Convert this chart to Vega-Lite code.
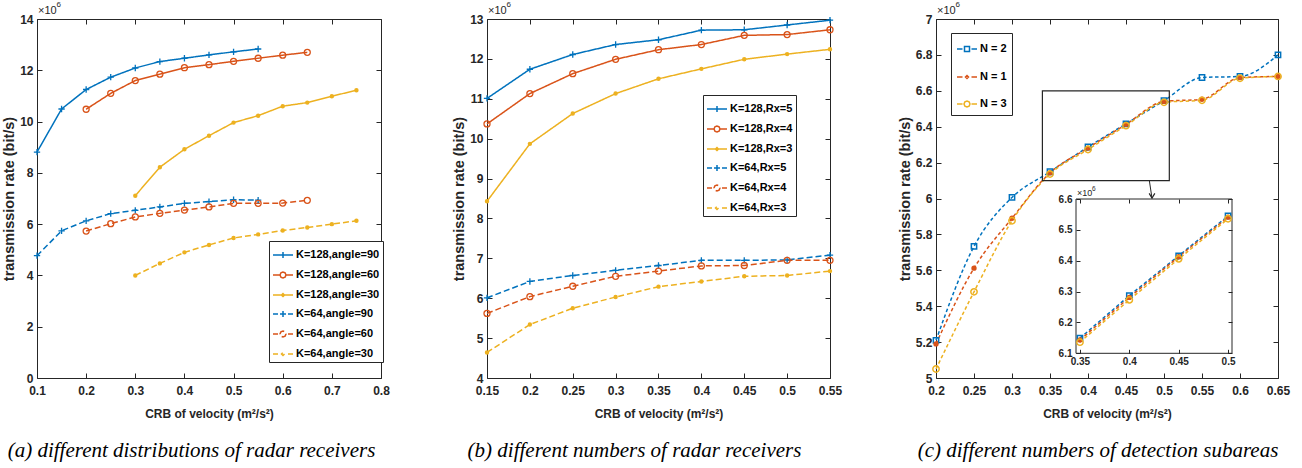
{
"$schema":"https://vega.github.io/schema/vega-lite/v6.json",
"background":"white",
"padding":{"left":1,"top":0,"right":0,"bottom":0},
"spacing":106,
"bounds":"flush",
"resolve":{"scale":{"color":"independent","shape":"independent","strokeDash":"independent"}},
"datasets":{
"a":[
{"s":"K=128,angle=90","x":0.1,"y":8.81},{"s":"K=128,angle=90","x":0.15,"y":10.49},{"s":"K=128,angle=90","x":0.2,"y":11.25},{"s":"K=128,angle=90","x":0.25,"y":11.73},{"s":"K=128,angle=90","x":0.3,"y":12.09},{"s":"K=128,angle=90","x":0.35,"y":12.34},{"s":"K=128,angle=90","x":0.4,"y":12.47},{"s":"K=128,angle=90","x":0.45,"y":12.6},{"s":"K=128,angle=90","x":0.5,"y":12.72},{"s":"K=128,angle=90","x":0.55,"y":12.83},
{"s":"K=128,angle=60","x":0.2,"y":10.48},{"s":"K=128,angle=60","x":0.25,"y":11.1},{"s":"K=128,angle=60","x":0.3,"y":11.6},{"s":"K=128,angle=60","x":0.35,"y":11.85},{"s":"K=128,angle=60","x":0.4,"y":12.1},{"s":"K=128,angle=60","x":0.45,"y":12.22},{"s":"K=128,angle=60","x":0.5,"y":12.35},{"s":"K=128,angle=60","x":0.55,"y":12.47},{"s":"K=128,angle=60","x":0.6,"y":12.59},{"s":"K=128,angle=60","x":0.65,"y":12.7},
{"s":"K=128,angle=30","x":0.3,"y":7.11},{"s":"K=128,angle=30","x":0.35,"y":8.22},{"s":"K=128,angle=30","x":0.4,"y":8.92},{"s":"K=128,angle=30","x":0.45,"y":9.45},{"s":"K=128,angle=30","x":0.5,"y":9.96},{"s":"K=128,angle=30","x":0.55,"y":10.23},{"s":"K=128,angle=30","x":0.6,"y":10.6},{"s":"K=128,angle=30","x":0.65,"y":10.74},{"s":"K=128,angle=30","x":0.7,"y":10.99},{"s":"K=128,angle=30","x":0.75,"y":11.22},
{"s":"K=64,angle=90","x":0.1,"y":4.77},{"s":"K=64,angle=90","x":0.15,"y":5.74},{"s":"K=64,angle=90","x":0.2,"y":6.13},{"s":"K=64,angle=90","x":0.25,"y":6.41},{"s":"K=64,angle=90","x":0.3,"y":6.54},{"s":"K=64,angle=90","x":0.35,"y":6.67},{"s":"K=64,angle=90","x":0.4,"y":6.81},{"s":"K=64,angle=90","x":0.45,"y":6.88},{"s":"K=64,angle=90","x":0.5,"y":6.95},{"s":"K=64,angle=90","x":0.55,"y":6.94},
{"s":"K=64,angle=60","x":0.2,"y":5.73},{"s":"K=64,angle=60","x":0.25,"y":6.02},{"s":"K=64,angle=60","x":0.3,"y":6.28},{"s":"K=64,angle=60","x":0.35,"y":6.42},{"s":"K=64,angle=60","x":0.4,"y":6.55},{"s":"K=64,angle=60","x":0.45,"y":6.67},{"s":"K=64,angle=60","x":0.5,"y":6.81},{"s":"K=64,angle=60","x":0.55,"y":6.81},{"s":"K=64,angle=60","x":0.6,"y":6.82},{"s":"K=64,angle=60","x":0.65,"y":6.93},
{"s":"K=64,angle=30","x":0.3,"y":4.0},{"s":"K=64,angle=30","x":0.35,"y":4.47},{"s":"K=64,angle=30","x":0.4,"y":4.9},{"s":"K=64,angle=30","x":0.45,"y":5.19},{"s":"K=64,angle=30","x":0.5,"y":5.46},{"s":"K=64,angle=30","x":0.55,"y":5.6},{"s":"K=64,angle=30","x":0.6,"y":5.75},{"s":"K=64,angle=30","x":0.65,"y":5.87},{"s":"K=64,angle=30","x":0.7,"y":6.0},{"s":"K=64,angle=30","x":0.75,"y":6.13}
],
"b":[
{"s":"K=128,Rx=5","x":0.15,"y":11.01},{"s":"K=128,Rx=5","x":0.2,"y":11.74},{"s":"K=128,Rx=5","x":0.25,"y":12.11},{"s":"K=128,Rx=5","x":0.3,"y":12.36},{"s":"K=128,Rx=5","x":0.35,"y":12.48},{"s":"K=128,Rx=5","x":0.4,"y":12.72},{"s":"K=128,Rx=5","x":0.45,"y":12.73},{"s":"K=128,Rx=5","x":0.5,"y":12.85},{"s":"K=128,Rx=5","x":0.55,"y":12.97},
{"s":"K=128,Rx=4","x":0.15,"y":10.37},{"s":"K=128,Rx=4","x":0.2,"y":11.13},{"s":"K=128,Rx=4","x":0.25,"y":11.63},{"s":"K=128,Rx=4","x":0.3,"y":11.99},{"s":"K=128,Rx=4","x":0.35,"y":12.23},{"s":"K=128,Rx=4","x":0.4,"y":12.36},{"s":"K=128,Rx=4","x":0.45,"y":12.59},{"s":"K=128,Rx=4","x":0.5,"y":12.61},{"s":"K=128,Rx=4","x":0.55,"y":12.73},
{"s":"K=128,Rx=3","x":0.15,"y":8.43},{"s":"K=128,Rx=3","x":0.2,"y":9.87},{"s":"K=128,Rx=3","x":0.25,"y":10.63},{"s":"K=128,Rx=3","x":0.3,"y":11.13},{"s":"K=128,Rx=3","x":0.35,"y":11.5},{"s":"K=128,Rx=3","x":0.4,"y":11.75},{"s":"K=128,Rx=3","x":0.45,"y":11.99},{"s":"K=128,Rx=3","x":0.5,"y":12.12},{"s":"K=128,Rx=3","x":0.55,"y":12.24},
{"s":"K=64,Rx=5","x":0.15,"y":6.01},{"s":"K=64,Rx=5","x":0.2,"y":6.42},{"s":"K=64,Rx=5","x":0.25,"y":6.57},{"s":"K=64,Rx=5","x":0.3,"y":6.7},{"s":"K=64,Rx=5","x":0.35,"y":6.82},{"s":"K=64,Rx=5","x":0.4,"y":6.95},{"s":"K=64,Rx=5","x":0.45,"y":6.95},{"s":"K=64,Rx=5","x":0.5,"y":6.96},{"s":"K=64,Rx=5","x":0.55,"y":7.08},
{"s":"K=64,Rx=4","x":0.15,"y":5.62},{"s":"K=64,Rx=4","x":0.2,"y":6.04},{"s":"K=64,Rx=4","x":0.25,"y":6.3},{"s":"K=64,Rx=4","x":0.3,"y":6.55},{"s":"K=64,Rx=4","x":0.35,"y":6.68},{"s":"K=64,Rx=4","x":0.4,"y":6.81},{"s":"K=64,Rx=4","x":0.45,"y":6.82},{"s":"K=64,Rx=4","x":0.5,"y":6.95},{"s":"K=64,Rx=4","x":0.55,"y":6.95},
{"s":"K=64,Rx=3","x":0.15,"y":4.64},{"s":"K=64,Rx=3","x":0.2,"y":5.34},{"s":"K=64,Rx=3","x":0.25,"y":5.75},{"s":"K=64,Rx=3","x":0.3,"y":6.03},{"s":"K=64,Rx=3","x":0.35,"y":6.29},{"s":"K=64,Rx=3","x":0.4,"y":6.42},{"s":"K=64,Rx=3","x":0.45,"y":6.55},{"s":"K=64,Rx=3","x":0.5,"y":6.57},{"s":"K=64,Rx=3","x":0.55,"y":6.68}
],
"c":[
{"s":"N = 2","x":0.2,"y":5.21},{"s":"N = 2","x":0.25,"y":5.733},{"s":"N = 2","x":0.3,"y":6.006},{"s":"N = 2","x":0.35,"y":6.149},{"s":"N = 2","x":0.4,"y":6.287},{"s":"N = 2","x":0.45,"y":6.416},{"s":"N = 2","x":0.5,"y":6.545},{"s":"N = 2","x":0.55,"y":6.674},{"s":"N = 2","x":0.6,"y":6.68},{"s":"N = 2","x":0.65,"y":6.8},
{"s":"N = 1","x":0.2,"y":5.19},{"s":"N = 1","x":0.25,"y":5.612},{"s":"N = 1","x":0.3,"y":5.89},{"s":"N = 1","x":0.35,"y":6.143},{"s":"N = 1","x":0.4,"y":6.281},{"s":"N = 1","x":0.45,"y":6.413},{"s":"N = 1","x":0.5,"y":6.541},{"s":"N = 1","x":0.55,"y":6.553},{"s":"N = 1","x":0.6,"y":6.674},{"s":"N = 1","x":0.65,"y":6.68},
{"s":"N = 3","x":0.2,"y":5.05},{"s":"N = 3","x":0.25,"y":5.48},{"s":"N = 3","x":0.3,"y":5.876},{"s":"N = 3","x":0.35,"y":6.136},{"s":"N = 3","x":0.4,"y":6.273},{"s":"N = 3","x":0.45,"y":6.406},{"s":"N = 3","x":0.5,"y":6.536},{"s":"N = 3","x":0.55,"y":6.547},{"s":"N = 3","x":0.6,"y":6.67},{"s":"N = 3","x":0.65,"y":6.68}
]
},
"hconcat":[
{
"width":344,"height":359,
"title":{"text":"(a) different distributions of radar receivers","dx":-17.5},
"data":{"name":"a"},
"resolve":{"axis":{"x":"independent","y":"independent"}},
"layer":[
{"mark":{"type":"point","opacity":0,"filled":false,"strokeWidth":1.5},
"encoding":{
"x":{"field":"x","type":"quantitative","scale":{"domain":[0.1,0.8],"nice":false,"zero":false},"axis":{"orient":"top","values":[0.1,0.2,0.3,0.4,0.5,0.6,0.7,0.8],"labels":false,"grid":false,"title":null}},
"y":{"field":"y","type":"quantitative","scale":{"domain":[0,14],"nice":false,"zero":false},"axis":{"orient":"right","values":[0,2,4,6,8,10,12,14],"labels":false,"grid":false,"title":null}},
"color":{"field":"s","type":"nominal","scale":{"domain":["K=128,angle=90","K=128,angle=60","K=128,angle=30","K=64,angle=90","K=64,angle=60","K=64,angle=30"],"range":["#0072BD","#D95319","#EDB120","#0072BD","#D95319","#EDB120"]},
"legend":{"title":null,"orient":"none","legendX":232,"legendY":222,"direction":"vertical","rowPadding":3,"padding":3}},
"shape":{"field":"s","type":"nominal","scale":{"domain":["K=128,angle=90","K=128,angle=60","K=128,angle=30","K=64,angle=90","K=64,angle=60","K=64,angle=30"],"range":["M-1,0H1M0,-0.3V0.3","M-1,0H-0.3M0.3,0H1M0.3,0L0.21,0.21L0,0.3L-0.21,0.21L-0.3,0L-0.21,-0.21L0,-0.3L0.21,-0.21Z","M-1,0H1M0.15,0L0,0.15L-0.15,0L0,-0.15Z","M-1,0H-0.5M0.5,0H1M-0.3,0H0.3M0,-0.3V0.3","M-1,0H-0.5M0.5,0H1M0.3,0L0.21,0.21L0,0.3L-0.21,0.21L-0.3,0L-0.21,-0.21L0,-0.3L0.21,-0.21Z","M-1,0H-0.5M0.5,0H1M0.15,0L0,0.15L-0.15,0L0,-0.15Z"]},
"legend":{"title":null,"orient":"none","legendX":232,"legendY":222,"direction":"vertical","rowPadding":3,"padding":3}}}},
{"mark":{"type":"line","strokeWidth":1.5},
"encoding":{
"x":{"field":"x","type":"quantitative","scale":{"domain":[0.1,0.8],"nice":false,"zero":false},"axis":{"orient":"bottom","values":[0.1,0.2,0.3,0.4,0.5,0.6,0.7,0.8],"format":"~g","title":"CRB of velocity (m²/s²)"}},
"y":{"field":"y","type":"quantitative","scale":{"domain":[0,14],"nice":false,"zero":false},"axis":{"orient":"left","values":[0,2,4,6,8,10,12,14],"format":"~g","title":"transmission rate (bit/s)"}},
"color":{"field":"s","type":"nominal","scale":{"domain":["K=128,angle=90","K=128,angle=60","K=128,angle=30","K=64,angle=90","K=64,angle=60","K=64,angle=30"],"range":["#0072BD","#D95319","#EDB120","#0072BD","#D95319","#EDB120"]}},
"strokeDash":{"field":"s","type":"nominal","scale":{"domain":["K=128,angle=90","K=128,angle=60","K=128,angle=30","K=64,angle=90","K=64,angle=60","K=64,angle=30"],"range":[[1,0],[1,0],[1,0],[6,3],[6,3],[6,3]]},"legend":null}}},
{"transform":[{"filter":{"field":"s","oneOf":["K=128,angle=90","K=64,angle=90"]}}],
"mark":{"type":"point","shape":"M-1,0H1M0,-1V1","size":40,"filled":false,"strokeWidth":1.3,"opacity":1},
"encoding":{"x":{"field":"x","type":"quantitative","axis":null},"y":{"field":"y","type":"quantitative","axis":null},
"color":{"field":"s","type":"nominal","scale":{"domain":["K=128,angle=90","K=128,angle=60","K=128,angle=30","K=64,angle=90","K=64,angle=60","K=64,angle=30"],"range":["#0072BD","#D95319","#EDB120","#0072BD","#D95319","#EDB120"]}}}},
{"transform":[{"filter":{"field":"s","oneOf":["K=128,angle=60","K=64,angle=60"]}}],
"mark":{"type":"point","shape":"circle","size":36,"filled":false,"strokeWidth":1.3,"opacity":1},
"encoding":{"x":{"field":"x","type":"quantitative","axis":null},"y":{"field":"y","type":"quantitative","axis":null},
"color":{"field":"s","type":"nominal","scale":{"domain":["K=128,angle=90","K=128,angle=60","K=128,angle=30","K=64,angle=90","K=64,angle=60","K=64,angle=30"],"range":["#0072BD","#D95319","#EDB120","#0072BD","#D95319","#EDB120"]}}}},
{"transform":[{"filter":{"field":"s","oneOf":["K=128,angle=30","K=64,angle=30"]}}],
"mark":{"type":"point","shape":"circle","size":5,"filled":false,"strokeWidth":2.2,"opacity":1},
"encoding":{"x":{"field":"x","type":"quantitative","axis":null},"y":{"field":"y","type":"quantitative","axis":null},
"color":{"field":"s","type":"nominal","scale":{"domain":["K=128,angle=90","K=128,angle=60","K=128,angle=30","K=64,angle=90","K=64,angle=60","K=64,angle=30"],"range":["#0072BD","#D95319","#EDB120","#0072BD","#D95319","#EDB120"]}}}},
{"data":{"values":[{}]},"mark":{"type":"text","text":"×10","align":"left","baseline":"alphabetic","dx":1,"dy":-4.7,"font":"Liberation Sans","fontSize":11,"color":"#262626"},
"encoding":{"x":{"datum":0.1,"type":"quantitative","axis":null},"y":{"datum":14,"type":"quantitative","axis":null}}},
{"data":{"values":[{}]},"mark":{"type":"text","text":"6","align":"left","baseline":"alphabetic","dx":19.5,"dy":-12.4,"font":"Liberation Sans","fontSize":8,"color":"#262626"},
"encoding":{"x":{"datum":0.1,"type":"quantitative","axis":null},"y":{"datum":14,"type":"quantitative","axis":null}}}
]
},
{
"width":343,"height":359,
"title":{"text":"(b) different numbers of radar receivers","dx":-24},
"data":{"name":"b"},
"resolve":{"axis":{"x":"independent","y":"independent"}},
"layer":[
{"mark":{"type":"point","opacity":0,"filled":false,"strokeWidth":1.5},
"encoding":{
"x":{"field":"x","type":"quantitative","scale":{"domain":[0.15,0.55],"nice":false,"zero":false},"axis":{"orient":"top","values":[0.15,0.2,0.25,0.3,0.35,0.4,0.45,0.5,0.55],"labels":false,"grid":false,"title":null}},
"y":{"field":"y","type":"quantitative","scale":{"domain":[4,13],"nice":false,"zero":false},"axis":{"orient":"right","values":[4,5,6,7,8,9,10,11,12,13],"labels":false,"grid":false,"title":null}},
"color":{"field":"s","type":"nominal","scale":{"domain":["K=128,Rx=5","K=128,Rx=4","K=128,Rx=3","K=64,Rx=5","K=64,Rx=4","K=64,Rx=3"],"range":["#0072BD","#D95319","#EDB120","#0072BD","#D95319","#EDB120"]},
"legend":{"title":null,"orient":"none","legendX":216,"legendY":76,"direction":"vertical","rowPadding":3,"padding":3}},
"shape":{"field":"s","type":"nominal","scale":{"domain":["K=128,Rx=5","K=128,Rx=4","K=128,Rx=3","K=64,Rx=5","K=64,Rx=4","K=64,Rx=3"],"range":["M-1,0H1M0,-0.3V0.3","M-1,0H-0.3M0.3,0H1M0.3,0L0.21,0.21L0,0.3L-0.21,0.21L-0.3,0L-0.21,-0.21L0,-0.3L0.21,-0.21Z","M-1,0H1M0.15,0L0,0.15L-0.15,0L0,-0.15Z","M-1,0H-0.5M0.5,0H1M-0.3,0H0.3M0,-0.3V0.3","M-1,0H-0.5M0.5,0H1M0.3,0L0.21,0.21L0,0.3L-0.21,0.21L-0.3,0L-0.21,-0.21L0,-0.3L0.21,-0.21Z","M-1,0H-0.5M0.5,0H1M0.15,0L0,0.15L-0.15,0L0,-0.15Z"]},
"legend":{"title":null,"orient":"none","legendX":216,"legendY":76,"direction":"vertical","rowPadding":3,"padding":3}}}},
{"mark":{"type":"line","strokeWidth":1.5},
"encoding":{
"x":{"field":"x","type":"quantitative","scale":{"domain":[0.15,0.55],"nice":false,"zero":false},"axis":{"orient":"bottom","values":[0.15,0.2,0.25,0.3,0.35,0.4,0.45,0.5,0.55],"format":"~g","title":"CRB of velocity  (m²/s²)"}},
"y":{"field":"y","type":"quantitative","scale":{"domain":[4,13],"nice":false,"zero":false},"axis":{"orient":"left","values":[4,5,6,7,8,9,10,11,12,13],"format":"~g","title":"transmission rate (bit/s)"}},
"color":{"field":"s","type":"nominal","scale":{"domain":["K=128,Rx=5","K=128,Rx=4","K=128,Rx=3","K=64,Rx=5","K=64,Rx=4","K=64,Rx=3"],"range":["#0072BD","#D95319","#EDB120","#0072BD","#D95319","#EDB120"]}},
"strokeDash":{"field":"s","type":"nominal","scale":{"domain":["K=128,Rx=5","K=128,Rx=4","K=128,Rx=3","K=64,Rx=5","K=64,Rx=4","K=64,Rx=3"],"range":[[1,0],[1,0],[1,0],[6,3],[6,3],[6,3]]},"legend":null}}},
{"transform":[{"filter":{"field":"s","oneOf":["K=128,Rx=5","K=64,Rx=5"]}}],
"mark":{"type":"point","shape":"M-1,0H1M0,-1V1","size":40,"filled":false,"strokeWidth":1.3,"opacity":1},
"encoding":{"x":{"field":"x","type":"quantitative","axis":null},"y":{"field":"y","type":"quantitative","axis":null},
"color":{"field":"s","type":"nominal","scale":{"domain":["K=128,Rx=5","K=128,Rx=4","K=128,Rx=3","K=64,Rx=5","K=64,Rx=4","K=64,Rx=3"],"range":["#0072BD","#D95319","#EDB120","#0072BD","#D95319","#EDB120"]}}}},
{"transform":[{"filter":{"field":"s","oneOf":["K=128,Rx=4","K=64,Rx=4"]}}],
"mark":{"type":"point","shape":"circle","size":36,"filled":false,"strokeWidth":1.3,"opacity":1},
"encoding":{"x":{"field":"x","type":"quantitative","axis":null},"y":{"field":"y","type":"quantitative","axis":null},
"color":{"field":"s","type":"nominal","scale":{"domain":["K=128,Rx=5","K=128,Rx=4","K=128,Rx=3","K=64,Rx=5","K=64,Rx=4","K=64,Rx=3"],"range":["#0072BD","#D95319","#EDB120","#0072BD","#D95319","#EDB120"]}}}},
{"transform":[{"filter":{"field":"s","oneOf":["K=128,Rx=3","K=64,Rx=3"]}}],
"mark":{"type":"point","shape":"circle","size":5,"filled":false,"strokeWidth":2.2,"opacity":1},
"encoding":{"x":{"field":"x","type":"quantitative","axis":null},"y":{"field":"y","type":"quantitative","axis":null},
"color":{"field":"s","type":"nominal","scale":{"domain":["K=128,Rx=5","K=128,Rx=4","K=128,Rx=3","K=64,Rx=5","K=64,Rx=4","K=64,Rx=3"],"range":["#0072BD","#D95319","#EDB120","#0072BD","#D95319","#EDB120"]}}}},
{"data":{"values":[{}]},"mark":{"type":"text","text":"×10","align":"left","baseline":"alphabetic","dx":1,"dy":-4.7,"font":"Liberation Sans","fontSize":11,"color":"#262626"},
"encoding":{"x":{"datum":0.15,"type":"quantitative","axis":null},"y":{"datum":13,"type":"quantitative","axis":null}}},
{"data":{"values":[{}]},"mark":{"type":"text","text":"6","align":"left","baseline":"alphabetic","dx":19.5,"dy":-12.4,"font":"Liberation Sans","fontSize":8,"color":"#262626"},
"encoding":{"x":{"datum":0.15,"type":"quantitative","axis":null},"y":{"datum":13,"type":"quantitative","axis":null}}}
]
},
{
"width":342,"height":359,
"title":{"text":"(c) different numbers of detection subareas","dx":-9},
"data":{"name":"c"},
"resolve":{"scale":{"x":"independent","y":"independent"}},
"layer":[
{
"resolve":{"axis":{"x":"independent","y":"independent"}},
"layer":[
{"mark":{"type":"point","opacity":0,"filled":false,"strokeWidth":1.5},
"encoding":{
"x":{"field":"x","type":"quantitative","scale":{"domain":[0.2,0.65],"nice":false,"zero":false},"axis":{"orient":"top","values":[0.2,0.25,0.3,0.35,0.4,0.45,0.5,0.55,0.6,0.65],"labels":false,"grid":false,"title":null}},
"y":{"field":"y","type":"quantitative","scale":{"domain":[5,7],"nice":false,"zero":false},"axis":{"orient":"right","values":[5,5.2,5.4,5.6,5.8,6,6.2,6.4,6.6,6.8,7],"labels":false,"grid":false,"title":null}},
"color":{"field":"s","type":"nominal","scale":{"domain":["N = 2","N = 1","N = 3"],"range":["#0072BD","#D95319","#EDB120"]},
"legend":{"title":null,"orient":"none","legendX":15,"legendY":14,"direction":"vertical","rowPadding":11,"padding":5}},
"shape":{"field":"s","type":"nominal","scale":{"domain":["N = 2","N = 1","N = 3"],"range":["M-1,0H-0.45M0.45,0H1M-0.25,-0.25H0.25V0.25H-0.25Z","M-1,0H-0.45M0.45,0H1M0.15,0L0,0.15L-0.15,0L0,-0.15Z","M-1,0H-0.45M0.45,0H1M0.3,0L0.21,0.21L0,0.3L-0.21,0.21L-0.3,0L-0.21,-0.21L0,-0.3L0.21,-0.21Z"]},
"legend":{"title":null,"orient":"none","legendX":15,"legendY":14,"direction":"vertical","rowPadding":11,"padding":5}}}},
{"mark":{"type":"line","strokeWidth":1.5,"strokeDash":[3.5,2.5],"interpolate":"monotone"},
"encoding":{
"x":{"field":"x","type":"quantitative","scale":{"domain":[0.2,0.65],"nice":false,"zero":false},"axis":{"orient":"bottom","values":[0.2,0.25,0.3,0.35,0.4,0.45,0.5,0.55,0.6,0.65],"format":"~g","title":"CRB of velocity  (m²/s²)"}},
"y":{"field":"y","type":"quantitative","scale":{"domain":[5,7],"nice":false,"zero":false},"axis":{"orient":"left","values":[5,5.2,5.4,5.6,5.8,6,6.2,6.4,6.6,6.8,7],"format":"~g","title":"transmission rate (bit/s)"}},
"color":{"field":"s","type":"nominal","scale":{"domain":["N = 2","N = 1","N = 3"],"range":["#0072BD","#D95319","#EDB120"]}}}},
{"transform":[{"filter":{"field":"s","equal":"N = 2"}}],
"mark":{"type":"point","shape":"square","size":28,"filled":false,"strokeWidth":1.5,"opacity":1},
"encoding":{"x":{"field":"x","type":"quantitative","axis":null},"y":{"field":"y","type":"quantitative","axis":null},
"color":{"field":"s","type":"nominal","scale":{"domain":["N = 2","N = 1","N = 3"],"range":["#0072BD","#D95319","#EDB120"]}}}},
{"transform":[{"filter":{"field":"s","equal":"N = 1"}}],
"mark":{"type":"point","shape":"circle","size":8,"filled":false,"strokeWidth":2.5,"opacity":1},
"encoding":{"x":{"field":"x","type":"quantitative","axis":null},"y":{"field":"y","type":"quantitative","axis":null},
"color":{"field":"s","type":"nominal","scale":{"domain":["N = 2","N = 1","N = 3"],"range":["#0072BD","#D95319","#EDB120"]}}}},
{"transform":[{"filter":{"field":"s","equal":"N = 3"}}],
"mark":{"type":"point","shape":"circle","size":40,"filled":false,"strokeWidth":1.5,"opacity":1},
"encoding":{"x":{"field":"x","type":"quantitative","axis":null},"y":{"field":"y","type":"quantitative","axis":null},
"color":{"field":"s","type":"nominal","scale":{"domain":["N = 2","N = 1","N = 3"],"range":["#0072BD","#D95319","#EDB120"]}}}},
{"data":{"values":[{}]},"mark":{"type":"rect","fill":"white","fillOpacity":0,"stroke":"#262626","strokeWidth":1.2},
"encoding":{"x":{"datum":0.34,"type":"quantitative","axis":null},"x2":{"datum":0.507},"y":{"datum":6.1,"type":"quantitative","axis":null},"y2":{"datum":6.6}}},
{"data":{"values":[{}]},"mark":{"type":"rule","color":"#262626","strokeWidth":1},
"encoding":{"x":{"datum":0.4807,"type":"quantitative","axis":null},"x2":{"datum":0.4842},"y":{"datum":6.1,"type":"quantitative","axis":null},"y2":{"datum":6.002}}},
{"data":{"values":[{}]},"mark":{"type":"point","shape":"M-0.6,-1L0,0L0.6,-1","size":90,"filled":false,"strokeWidth":1.2,"color":"#262626","opacity":1},
"encoding":{"x":{"datum":0.4842,"type":"quantitative","axis":null},"y":{"datum":6.002,"type":"quantitative","axis":null}}},
{"data":{"values":[{}]},"mark":{"type":"text","text":"×10","align":"left","baseline":"alphabetic","dx":1,"dy":-4.7,"font":"Liberation Sans","fontSize":11,"color":"#262626"},
"encoding":{"x":{"datum":0.2,"type":"quantitative","axis":null},"y":{"datum":7,"type":"quantitative","axis":null}}},
{"data":{"values":[{}]},"mark":{"type":"text","text":"6","align":"left","baseline":"alphabetic","dx":19.5,"dy":-12.4,"font":"Liberation Sans","fontSize":8,"color":"#262626"},
"encoding":{"x":{"datum":0.2,"type":"quantitative","axis":null},"y":{"datum":7,"type":"quantitative","axis":null}}}
]
},
{
"resolve":{"axis":{"x":"independent","y":"independent"}},
"layer":[
{"data":{"values":[{}]},"mark":{"type":"rect","fill":"white","stroke":"#262626","strokeWidth":1},
"encoding":{"x":{"datum":0.346,"type":"quantitative","scale":{"domain":[0.346,0.504],"range":[140,296],"nice":false,"zero":false},"axis":{"orient":"bottom","offset":-24.7,"values":[0.35,0.4,0.45,0.5],"format":"~g","title":null,"labelFontSize":10,"tickSize":-4,"labelPadding":7,"zindex":1}},"x2":{"datum":0.504},
"y":{"datum":6.1,"type":"quantitative","scale":{"domain":[6.1,6.6],"range":[334.3,180],"nice":false,"zero":false},"axis":{"orient":"left","offset":-140,"values":[6.1,6.2,6.3,6.4,6.5,6.6],"format":".1f","title":null,"labelFontSize":10,"tickSize":-4,"labelPadding":8,"zindex":1}},"y2":{"datum":6.6}}},
{"transform":[{"filter":{"field":"x","range":[0.34,0.51]}}],
"mark":{"type":"line","strokeWidth":1.5,"strokeDash":[3.5,2.5]},
"encoding":{"x":{"field":"x","type":"quantitative","scale":{"domain":[0.346,0.504],"range":[140,296],"nice":false,"zero":false},"axis":null},
"y":{"field":"y","type":"quantitative","scale":{"domain":[6.1,6.6],"range":[334.3,180],"nice":false,"zero":false},"axis":null},
"color":{"field":"s","type":"nominal","scale":{"domain":["N = 2","N = 1","N = 3"],"range":["#0072BD","#D95319","#EDB120"]}}}},
{"transform":[{"filter":{"field":"x","range":[0.34,0.51]}},{"filter":{"field":"s","equal":"N = 2"}}],
"mark":{"type":"point","shape":"square","size":28,"filled":false,"strokeWidth":1.5,"opacity":1},
"encoding":{"x":{"field":"x","type":"quantitative","scale":{"domain":[0.346,0.504],"range":[140,296],"nice":false,"zero":false},"axis":null},
"y":{"field":"y","type":"quantitative","scale":{"domain":[6.1,6.6],"range":[334.3,180],"nice":false,"zero":false},"axis":null},
"color":{"field":"s","type":"nominal","scale":{"domain":["N = 2","N = 1","N = 3"],"range":["#0072BD","#D95319","#EDB120"]}}}},
{"transform":[{"filter":{"field":"x","range":[0.34,0.51]}},{"filter":{"field":"s","equal":"N = 1"}}],
"mark":{"type":"point","shape":"circle","size":8,"filled":false,"strokeWidth":2.5,"opacity":1},
"encoding":{"x":{"field":"x","type":"quantitative","scale":{"domain":[0.346,0.504],"range":[140,296],"nice":false,"zero":false},"axis":null},
"y":{"field":"y","type":"quantitative","scale":{"domain":[6.1,6.6],"range":[334.3,180],"nice":false,"zero":false},"axis":null},
"color":{"field":"s","type":"nominal","scale":{"domain":["N = 2","N = 1","N = 3"],"range":["#0072BD","#D95319","#EDB120"]}}}},
{"transform":[{"filter":{"field":"x","range":[0.34,0.51]}},{"filter":{"field":"s","equal":"N = 3"}}],
"mark":{"type":"point","shape":"circle","size":40,"filled":false,"strokeWidth":1.5,"opacity":1},
"encoding":{"x":{"field":"x","type":"quantitative","scale":{"domain":[0.346,0.504],"range":[140,296],"nice":false,"zero":false},"axis":{"orient":"top","offset":-180,"values":[0.35,0.4,0.45,0.5],"labels":false,"grid":false,"title":null,"tickSize":-4,"zindex":1}},
"y":{"field":"y","type":"quantitative","scale":{"domain":[6.1,6.6],"range":[334.3,180],"nice":false,"zero":false},"axis":{"orient":"right","offset":-46,"values":[6.1,6.2,6.3,6.4,6.5,6.6],"labels":false,"grid":false,"title":null,"tickSize":-4,"zindex":1}},
"color":{"field":"s","type":"nominal","scale":{"domain":["N = 2","N = 1","N = 3"],"range":["#0072BD","#D95319","#EDB120"]}}}},
{"data":{"values":[{}]},"mark":{"type":"text","text":"×10","align":"left","baseline":"alphabetic","dx":1,"dy":-3.5,"font":"Liberation Sans","fontSize":9,"color":"#262626"},
"encoding":{"x":{"datum":0.346,"type":"quantitative","scale":{"domain":[0.346,0.504],"range":[140,296],"nice":false,"zero":false},"axis":null},"y":{"datum":6.6,"type":"quantitative","scale":{"domain":[6.1,6.6],"range":[334.3,180],"nice":false,"zero":false},"axis":null}}},
{"data":{"values":[{}]},"mark":{"type":"text","text":"6","align":"left","baseline":"alphabetic","dx":16,"dy":-8,"font":"Liberation Sans","fontSize":6.5,"color":"#262626"},
"encoding":{"x":{"datum":0.346,"type":"quantitative","scale":{"domain":[0.346,0.504],"range":[140,296],"nice":false,"zero":false},"axis":null},"y":{"datum":6.6,"type":"quantitative","scale":{"domain":[6.1,6.6],"range":[334.3,180],"nice":false,"zero":false},"axis":null}}}
]
}
]
}
],
"config":{
"view":{"stroke":"#262626","strokeWidth":1},
"axis":{"domain":false,"grid":true,"gridColor":"#e0e0e0","gridWidth":1,"tickColor":"#262626","tickSize":-5,"tickWidth":1,"labelFont":"Liberation Sans","labelFontWeight":"bold","labelFontSize":12,"labelColor":"#262626","labelPadding":9,"labelFlush":false,"labelOverlap":false,"titleFont":"Liberation Sans","titleFontWeight":"bold","titleFontSize":12,"titleColor":"#262626"},
"axisX":{"titlePadding":12,"labelPadding":12},
"axisY":{"titleFontSize":14.5,"titlePadding":3},
"legend":{"symbolSize":400,"symbolStrokeWidth":1.5,"symbolOpacity":1,"labelFont":"Liberation Sans","labelFontWeight":"bold","labelFontSize":11,"labelColor":"black","strokeColor":"#262626","fillColor":"white","labelOffset":2},
"title":{"orient":"bottom","font":"Liberation Serif","fontStyle":"italic","fontWeight":"normal","fontSize":21,"color":"black","offset":21,"frame":"group","anchor":"middle"}
}
}
